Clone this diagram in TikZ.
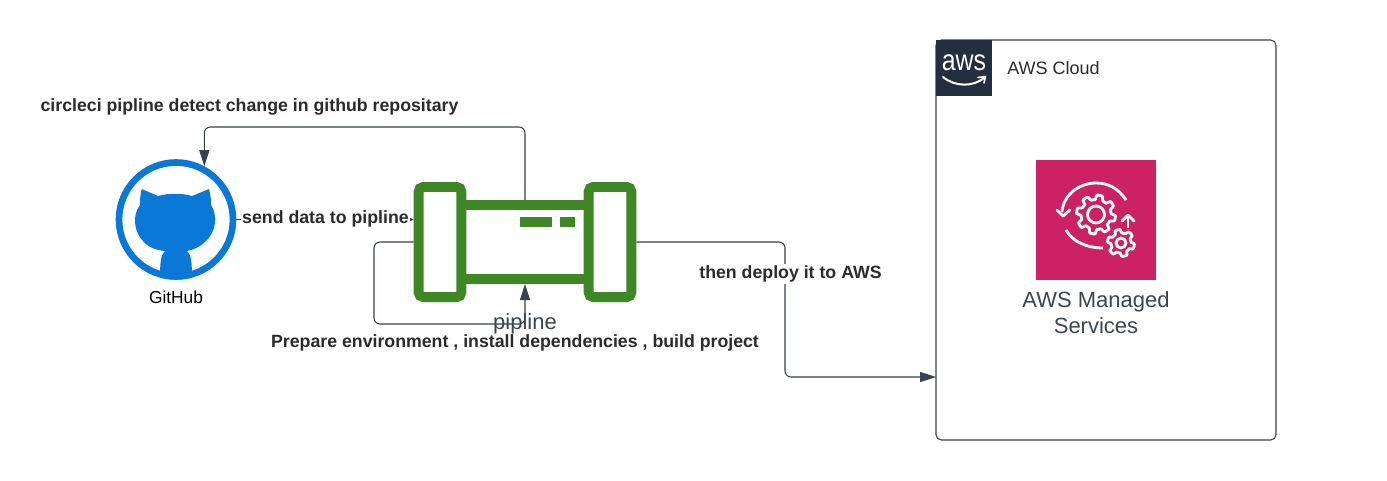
\documentclass[tikz,border=0pt]{standalone}
\usepackage{fontspec}
\setmainfont{Liberation Sans}
\usetikzlibrary{arrows.meta}
\definecolor{ghblue}{HTML}{0A78D6}
\definecolor{pipegreen}{HTML}{3F8624}
\definecolor{linedark}{HTML}{3A414A}
\definecolor{awsnavy}{HTML}{232F3E}
\definecolor{awspink}{HTML}{CC2264}
\definecolor{labeldark}{HTML}{2B2B2B}
\definecolor{softtext}{HTML}{3C4650}
\newcommand{\gearshape}[5]{% x y outer inner teeth
  \draw[gearline] plot[domain=0:360,samples=121] ({#1+(#4+(#3-#4)*(0.5+0.5*max(min(2.5*sin(#5*\x),1),-1)))*cos(\x)},{#2+(#4+(#3-#4)*(0.5+0.5*max(min(2.5*sin(#5*\x),1),-1)))*sin(\x)});
}
\tikzset{
  conn/.style={draw=linedark,line width=0.8pt,rounded corners=4.5pt},
  bigtip/.style={-{Triangle[length=12pt,width=7.5pt,fill=linedark]}},
  smalltip/.style={-{Triangle[length=3.5pt,width=3pt,fill=linedark]}},
  boldlabel/.style={font=\fontsize{13.3}{15}\selectfont\bfseries,text=labeldark,inner sep=0pt},
  whitelabel/.style={boldlabel,fill=white,inner xsep=1pt,inner ysep=1.5pt},
  softlabel/.style={font=\fontsize{16.5}{19.5}\selectfont,text=softtext,inner sep=0pt,align=center},
  endcap/.style={draw=pipegreen,line width=7.4pt,rounded corners=3.5pt,minimum width=32pt,minimum height=82.6pt,inner sep=0pt,fill=white},
  pipefill/.style={fill=pipegreen},
  gearline/.style={draw=white,line width=2.1pt,line join=round},
  whitearc/.style={draw=white,line width=2.1pt},
  hiddenbox/.style={inner sep=0pt,outer sep=0pt}
}
\begin{document}
\begin{tikzpicture}[x=0.75pt,y=-0.75pt]
\useasboundingbox (0,0) rectangle (1387,480);
\fill[white] (0,0) rectangle (1387,480);

% AWS cloud group
\node[draw=linedark,line width=0.8pt,rounded corners=4pt,minimum width=255pt,minimum height=300pt,inner sep=0pt,outer sep=0pt] (aws) at (1106,240) {};
\node[fill=awsnavy,minimum size=42pt,inner sep=0pt] (awslogo) at (964,68) {};
\node[font=\fontsize{22}{24}\selectfont,text=white,inner sep=0pt,xscale=0.85] (awstext) at (964,63) {aws};
\draw[white,line width=1.5pt,line cap=round] (943,77) .. controls (955,87) and (973,87) .. (984,78);
\draw[white,line width=1.2pt,line cap=round,line join=round] (978,77.5) -- (985.5,76.5) -- (984,83);
\node[font=\fontsize{13.5}{16}\selectfont,text=labeldark,anchor=west,inner sep=0pt] (awscloud) at (1007,68) {AWS Cloud};

% Managed services icon
\node[fill=awspink,minimum size=90pt,inner sep=0pt] (msicon) at (1096,220) {};
\gearshape{1096}{214.5}{19.5}{15}{8}
\draw[gearline] (1096,214.5) circle[radius=8.5];
\gearshape{1121}{243}{13.5}{10}{6}
\draw[gearline] (1121,243) circle[radius=5];
\draw[whitearc] (1126,200) .. controls (1118,188) and (1108,183) .. (1096,183) .. controls (1078,183) and (1063,196) .. (1062,212);
\draw[white,line width=2.1pt,line join=round,line cap=round] (1057,210) -- (1063,216) -- (1070,210);
\draw[whitearc] (1066,230) .. controls (1072,241) and (1086,248) .. (1103,248);
\draw[white,line width=2.1pt,line join=round] (1128,228) -- (1128,216);
\draw[white,line width=2.1pt,line join=round,line cap=round] (1122,221) -- (1128,215) -- (1134,221);
\node[softlabel] (mslabel) at (1096,312.5) {AWS Managed\\Services};

% GitHub
\node[draw=ghblue,line width=5pt,circle,minimum size=85.5pt,inner sep=0pt,fill=white] (gh) at (176,219.5) {};
\begin{scope}
\clip (176,219.5) circle[radius=60];
\fill[ghblue] (141.7,189) -- (158,196) .. controls (168,193) and (182,193) .. (192,196) -- (209,189)
  .. controls (211,196) and (211,201) .. (211,205) .. controls (218,215) and (216,232) .. (206,241)
  .. controls (200,247) and (193,250) .. (187,251) .. controls (191,255) and (192,260) .. (192,280)
  -- (160,280) .. controls (160,260) and (161,255) .. (165,251) .. controls (155,250) and (148,247) .. (143,241)
  .. controls (134,232) and (132,215) .. (140,205) .. controls (140,201) and (140,196) .. (141.7,189) -- cycle;
\end{scope}
\node[font=\fontsize{13}{15}\selectfont,text=black,inner sep=0pt] (ghlabel) at (176,297) {GitHub};

% Pipeline
\node[hiddenbox,minimum width=88.5pt,minimum height=63pt] (body) at (525,242) {};
\fill[pipefill] (460,200) rectangle (590,209.5);
\fill[pipefill] (460,274) rectangle (590,284);
\fill[pipefill] (520,217) rectangle (552,227);
\fill[pipefill] (560,217) rectangle (575,227);
\node[endcap] (capl) at (440,242) {};
\node[endcap] (capr) at (610,242) {};

% Connectors
\coordinate (turna) at (365,127);
\coordinate (turnb) at (374,324);
\coordinate (turnc) at (785,377);
\coordinate (awsin) at (aws.west |- turnc);
\draw[conn,bigtip] (body.north) |- (turna) -| (gh.62);
\draw[conn,smalltip] (gh.east) -- (capl.west |- gh.east);
\draw[conn,bigtip] (capl.west) -| (turnb) -| (body.south);
\draw[conn,bigtip] (capr.east) -| (turnc) -- (awsin);

% Labels
\node[boldlabel] (lbla) at (249.5,107) {circleci pipline detect change in github repositary};
\node[whitelabel] (lblb) at (325.5,219) {send data to pipline};
\node[softlabel] (pipelabel) at (525,323.5) {pipline};
\node[boldlabel] (lblc) at (515,343) {Prepare environment , install dependencies , build project};
\node[whitelabel] (lbld) at (790.5,274) {then deploy it to AWS};
\end{tikzpicture}
\end{document}
